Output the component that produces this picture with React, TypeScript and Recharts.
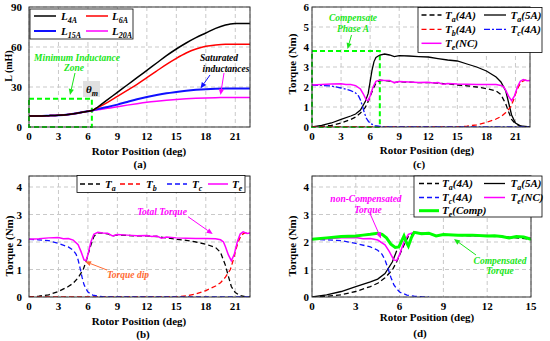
import React from 'react';
import { LineChart, Line, XAxis, YAxis, CartesianGrid, ReferenceArea } from 'recharts';

// (a) phase inductance against rotor position
const lPos = [0, 1, 2, 3, 4, 5, 6, 6.5, 7, 8, 9, 10, 11, 12, 13, 14, 15, 16, 17, 18, 19, 20, 20.5, 21, 22.5];
const l4A = [8.3, 8.3, 8.5, 8.8, 9.4, 10.5, 11.8, 12.6, 15, 20.5, 26, 31.5, 37, 42.5, 48, 53.5, 58.5, 63, 67, 70.5, 74, 76.5, 77.3, 77.6, 77.6];
const l6A = [8.3, 8.3, 8.5, 8.8, 9.4, 10.5, 11.8, 12.6, 14.5, 18.5, 23, 27.5, 32, 37, 42, 47, 51.5, 55.5, 58.5, 60.5, 61.5, 62, 62, 62, 62];
const l15A = [8.3, 8.3, 8.5, 8.8, 9.4, 10.5, 11.8, 12.4, 13.5, 15, 16.8, 18.8, 20.8, 22.5, 24, 25.3, 26.3, 27.2, 27.9, 28.4, 28.7, 28.8, 28.8, 28.8, 28.8];
const l20A = [8.3, 8.3, 8.5, 8.8, 9.4, 10.5, 11.8, 12.3, 13, 14, 15.2, 16.4, 17.5, 18.5, 19.3, 20, 20.6, 21.1, 21.5, 21.8, 22, 22.1, 22.2, 22.2, 22.2];

// torque curves, shared by (b), (c) and (d)
const tePos = [0, 1, 2, 3, 3.5, 4, 4.5, 5, 5.3, 5.6, 5.8, 6, 6.3, 6.6, 7, 7.5, 8, 8.5, 9, 10, 11, 12, 12.5, 13, 13.5, 14, 15, 16, 17, 18, 19, 19.5, 19.8, 20, 20.3, 20.6, 20.9, 21.2, 21.5, 21.8, 22.2, 22.5];
const teNC = [2.1, 2.12, 2.15, 2.16, 2.12, 2.13, 2.07, 1.9, 1.65, 1.35, 1.32, 1.55, 2.0, 2.28, 2.35, 2.33, 2.32, 2.22, 2.27, 2.25, 2.23, 2.24, 2.2, 2.22, 2.14, 2.18, 2.15, 2.14, 2.13, 2.13, 2.12, 2.08, 2.0, 1.83, 1.53, 1.32, 1.55, 2.0, 2.29, 2.37, 2.31, 2.33];

const taPos = [0, 1, 2, 3, 4, 4.5, 5, 5.5, 5.8, 6, 6.3, 6.6, 7, 7.5, 8, 8.5, 9, 10, 11, 12, 13, 14, 15, 16, 17, 18, 19, 19.5, 20, 20.3, 20.6, 21, 21.5, 22, 22.5];
const ta4A = [0, 0.03, 0.08, 0.2, 0.38, 0.5, 0.7, 0.98, 1.28, 1.53, 1.89, 2.2, 2.33, 2.32, 2.3, 2.22, 2.26, 2.24, 2.22, 2.22, 2.2, 2.15, 2.1, 2.06, 2.0, 1.92, 1.8, 1.62, 1.15, 0.75, 0.38, 0.16, 0.05, 0.01, 0];

const ta5Pos = [0, 1, 2, 3, 4, 4.5, 5, 5.5, 5.8, 6, 6.2, 6.4, 6.6, 7, 7.5, 8, 8.5, 9, 10, 11, 12, 13, 14, 15, 16, 17, 18, 19, 19.5, 20, 20.3, 20.6, 21, 21.5, 22.5];
const ta5A = [0, 0.08, 0.2, 0.38, 0.55, 0.65, 0.85, 1.27, 1.68, 2.27, 2.85, 3.27, 3.48, 3.6, 3.65, 3.6, 3.52, 3.57, 3.55, 3.52, 3.5, 3.42, 3.35, 3.3, 3.15, 3.0, 2.8, 2.5, 2.25, 1.8, 1.2, 0.6, 0.2, 0.06, 0];

const tbPos = [0, 15, 16, 17, 18, 19, 19.5, 20, 20.5, 20.8, 21, 21.3, 21.6, 22, 22.5];
const tb4A = [0, 0, 0.04, 0.11, 0.23, 0.4, 0.52, 0.72, 1.0, 1.35, 1.65, 2.0, 2.25, 2.34, 2.32];

const tcPos = [0, 1, 2, 3, 4, 4.5, 4.8, 5, 5.2, 5.4, 5.6, 5.8, 6, 6.5, 7, 7.5, 8, 22.5];
const tc4A = [2.1, 2.08, 2.05, 1.95, 1.82, 1.7, 1.55, 1.35, 1.05, 0.72, 0.45, 0.3, 0.18, 0.07, 0.03, 0.01, 0, 0];

const tcompPos = [0, 1, 2, 3, 3.5, 4, 4.5, 4.8, 5.1, 5.4, 5.7, 5.95, 6.15, 6.3, 6.45, 6.6, 6.8, 7, 7.5, 8, 8.5, 9, 10, 11, 12, 12.5, 13, 13.5, 14, 14.5, 15];
const teComp = [2.1, 2.15, 2.2, 2.22, 2.25, 2.28, 2.32, 2.28, 2.15, 1.92, 1.8, 1.82, 2.05, 2.22, 2.0, 1.85, 2.15, 2.35, 2.3, 2.32, 2.22, 2.27, 2.25, 2.25, 2.22, 2.23, 2.2, 2.15, 2.2, 2.18, 2.1];

const xTicks21 = [0, 3, 6, 9, 12, 15, 18, 21];
const xTicks15 = [0, 3, 6, 9, 12, 15];
const lTicks = [0, 30, 60, 90];
const tTicks4 = [0, 1, 2, 3, 4];
const tTicks6 = [0, 1, 2, 3, 4, 5, 6];

const pts = (xs: number[], ys: number[], max = Infinity) =>
  xs.map((x, i) => ({ x, y: ys[i] })).filter((p) => p.x <= max);

const FONT = '"Liberation Serif", "Times New Roman", serif';
const GREEN = '#00ff00';
const GREEN_TXT = '#19e619';

const XTick = (p: any) => (
  <text x={p.x} y={p.y + 13} textAnchor="middle" fontFamily={FONT} fontWeight={700} fontSize={11} fill="#000">
    {p.payload.value}
  </text>
);

function Panel({ left, top, width, height, plot, xMax, xTicks, yMax, yTicks, yGap, children }: any) {
  const YTick = (p: any) => (
    <text x={p.x - yGap} y={p.y + 4} textAnchor="end" fontFamily={FONT} fontWeight={700} fontSize={11} fill="#000">
      {p.payload.value}
    </text>
  );
  return (
    <div style={{ position: 'absolute', left, top }}>
      <LineChart width={width} height={height} margin={{ top: plot[1], right: width - plot[2], bottom: 0, left: 0 }}>
        <CartesianGrid stroke="#c9c9c9" strokeDasharray="4 3" />
        <XAxis type="number" dataKey="x" domain={[0, xMax]} ticks={xTicks} interval={0} height={height - plot[3]}
          tickLine={false} axisLine={false} tickSize={0} tickMargin={0} tick={XTick} allowDataOverflow />
        <YAxis type="number" domain={[0, yMax]} ticks={yTicks} interval={0} width={plot[0]}
          tickLine={false} axisLine={false} tickSize={0} tickMargin={0} tick={YTick} allowDataOverflow />
        {children}
      </LineChart>
    </div>
  );
}

const ln = (key: string, data: any[], color: string, w = 1.3, dash?: string, type: any = 'linear') => (
  <Line key={key} data={data} dataKey="y" type={type} stroke={color} strokeWidth={w} strokeDasharray={dash}
    dot={false} activeDot={false} isAnimationActive={false} />
);

function Arrow({ x1, y1, x2, y2, color }: any) {
  const a = Math.atan2(y2 - y1, x2 - x1);
  const L = 6, W = 2.6;
  const bx = x2 - L * Math.cos(a), by = y2 - L * Math.sin(a);
  const px = -Math.sin(a) * W, py = Math.cos(a) * W;
  return (
    <g>
      <line x1={x1} y1={y1} x2={bx} y2={by} stroke={color} strokeWidth={1} />
      <polygon points={`${x2},${y2} ${bx + px},${by + py} ${bx - px},${by - py}`} fill={color} />
    </g>
  );
}

// symbol with subscript, e.g. T_a(4A)
function Sym({ x, y, main, sub, tail }: any) {
  return (
    <text x={x} y={y} fontFamily={FONT} fontWeight={700} fontStyle="italic" fontSize={11} fill="#000">
      {main}
      <tspan fontSize={8} dy={3}>{sub}</tspan>
      {tail ? <tspan fontSize={11} dy={-3}>{tail}</tspan> : null}
    </text>
  );
}

function Note({ x, y, color, children, size = 9.5 }: any) {
  return (
    <text x={x} y={y} textAnchor="middle" fontFamily={FONT} fontWeight={700} fontStyle="italic" fontSize={size} fill={color}>
      {children}
    </text>
  );
}

function Key({ x, y, color, dash, w = 1.3, len = 22 }: any) {
  return <line x1={x} y1={y} x2={x + len} y2={y} stroke={color} strokeWidth={w} strokeDasharray={dash} />;
}

const bold = { fontFamily: FONT, fontWeight: 700, fontSize: 11, fill: '#000' } as const;

export default function App() {
  const dash = '5 3';
  const dashDot = '6 2 2 2';
  return (
    <div style={{ position: 'absolute', left: 0, top: 0, width: 550, height: 341, background: '#fff', overflow: 'hidden' }}>
      <Panel left={0} top={0} width={275} height={170} plot={[29, 7, 250, 127]} xMax={22.5} xTicks={xTicks21}
        yMax={90} yTicks={lTicks} yGap={7}>
        <ReferenceArea x1={0} x2={6.4} y1={0} y2={21.2} fill="none" stroke={GREEN} strokeWidth={2} strokeDasharray="5 3" ifOverflow="visible" />
        {ln('l20', pts(lPos, l20A), '#ff00ff', 1.5, undefined, 'monotone')}
        {ln('l15', pts(lPos, l15A), '#1010ff', 2, undefined, 'monotone')}
        {ln('l6', pts(lPos, l6A), '#ff0000', 1.5, undefined, 'monotone')}
        {ln('l4', pts(lPos, l4A), '#000', 1.5, undefined, 'monotone')}
      </Panel>

      <Panel left={275} top={0} width={275} height={170} plot={[37, 7, 255, 127]} xMax={22.5} xTicks={xTicks21}
        yMax={6} yTicks={tTicks6} yGap={3}>
        <ReferenceArea x1={0} x2={7} y1={0} y2={3.8} fill="none" stroke={GREEN} strokeWidth={2} strokeDasharray="5 3" ifOverflow="visible" />
        {ln('ta4', pts(taPos, ta4A), '#000', 1.3, dash)}
        {ln('ta5', pts(ta5Pos, ta5A), '#000', 1.3)}
        {ln('tb', pts(tbPos, tb4A), '#ff0000', 1.3, dash)}
        {ln('tc', pts(tcPos, tc4A), '#1010ff', 1.3, dashDot)}
        {ln('te', pts(tePos, teNC), '#ff00ff', 1.5)}
      </Panel>

      <Panel left={0} top={170} width={275} height={171} plot={[29, 6, 250, 127]} xMax={22.5} xTicks={xTicks21}
        yMax={4.4} yTicks={tTicks4} yGap={7}>
        {ln('ta', pts(taPos, ta4A), '#000', 1.3, dash)}
        {ln('tb', pts(tbPos, tb4A), '#ff0000', 1.3, dash)}
        {ln('tc', pts(tcPos, tc4A), '#1010ff', 1.3, dash)}
        {ln('te', pts(tePos, teNC), '#ff00ff', 1.5)}
      </Panel>

      <Panel left={275} top={170} width={275} height={171} plot={[37, 6, 256, 127]} xMax={15} xTicks={xTicks15}
        yMax={4.4} yTicks={tTicks4} yGap={3}>
        {ln('ta4', pts(taPos, ta4A, 15), '#000', 1.3, dash)}
        {ln('ta5', pts(ta5Pos, ta5A, 5.8), '#000', 1.3)}
        {ln('tc', pts(tcPos, tc4A, 15), '#1010ff', 1.3, dash)}
        {ln('te', pts(tePos, teNC, 15), '#ff00ff', 1.5)}
        {ln('tcomp', pts(tcompPos, teComp), GREEN, 3)}
      </Panel>

      <svg width={550} height={341} style={{ position: 'absolute', left: 0, top: 0, pointerEvents: 'none' }}>
        {/* axes boxes */}
        <rect x={29} y={7} width={221} height={120} fill="none" stroke="#333" strokeWidth={1} />
        <rect x={312} y={7} width={218} height={120} fill="none" stroke="#333" strokeWidth={1} />
        <rect x={29} y={176} width={221} height={121} fill="none" stroke="#333" strokeWidth={1} />
        <rect x={312} y={176} width={219} height={121} fill="none" stroke="#333" strokeWidth={1} />

        {/* axis titles */}
        <text x={139} y={154.5} textAnchor="middle" {...bold}>Rotor Position (deg)</text>
        <text x={427} y={154} textAnchor="middle" {...bold}>Rotor Position (deg)</text>
        <text x={139} y={324.5} textAnchor="middle" {...bold}>Rotor Position (deg)</text>
        <text x={427} y={320.5} textAnchor="middle" {...bold}>Rotor Position (deg)</text>
        <text x={140} y={168} textAnchor="middle" {...bold}>(a)</text>
        <text x={419} y={168} textAnchor="middle" {...bold}>(c)</text>
        <text x={143} y={338} textAnchor="middle" {...bold}>(b)</text>
        <text x={420} y={336.5} textAnchor="middle" {...bold}>(d)</text>
        <text transform="translate(12,66) rotate(-90)" textAnchor="middle" {...bold} fontSize={10}>L (mH)</text>
        <text transform="translate(13,246) rotate(-90)" textAnchor="middle" {...bold}>Torque (Nm)</text>
        <text transform="translate(296,64) rotate(-90)" textAnchor="middle" {...bold}>Torque (Nm)</text>
        <text transform="translate(296,246) rotate(-90)" textAnchor="middle" {...bold}>Torque (Nm)</text>

        {/* (a) legend and notes */}
        <rect x={30} y={9} width={103} height={30} fill="#fff" stroke="#000" strokeWidth={0.8} />
        <Key x={34} y={16} color="#000" w={1.5} />
        <Sym x={61} y={19.5} main="L" sub="4A" />
        <Key x={86} y={16} color="#ff0000" w={1.5} />
        <Sym x={112} y={19.5} main="L" sub="6A" />
        <Key x={34} y={31} color="#1010ff" w={2} />
        <Sym x={61} y={34.5} main="L" sub="15A" />
        <Key x={86} y={31} color="#ff00ff" w={1.5} />
        <Sym x={112} y={34.5} main="L" sub="20A" />
        <Note x={77} y={61} color={GREEN_TXT}>Minimum Inductance</Note>
        <Note x={74} y={71} color={GREEN_TXT}>Zone</Note>
        <Arrow x1={75} y1={73} x2={70} y2={95} color={GREEN_TXT} />
        <rect x={83} y={81} width={17} height={16} fill="#e0e0e0" />
        <Sym x={86} y={93} main="θ" sub="m" />
        <Note x={219} y={60.5} color="#000">Saturated</Note>
        <Note x={226} y={71.5} color="#000">inductances</Note>
        <Arrow x1={210} y1={75} x2={200.5} y2={88.5} color="#1010ff" />
        <Arrow x1={224} y1={73} x2={220.5} y2={95} color="#ff00ff" />

        {/* (b) legend and notes */}
        <rect x={77} y={175.5} width={168} height={17} fill="#fff" stroke="#000" strokeWidth={0.8} />
        <Key x={80} y={184} color="#000" dash={dash} len={20} />
        <Sym x={105} y={187.5} main="T" sub="a" />
        <Key x={120} y={184} color="#ff0000" dash={dash} len={20} />
        <Sym x={146} y={187.5} main="T" sub="b" />
        <Key x={167} y={184} color="#1010ff" dash={dash} len={20} />
        <Sym x={192} y={187.5} main="T" sub="c" />
        <Key x={208} y={184} color="#ff00ff" w={1.5} len={20} />
        <Sym x={232} y={187.5} main="T" sub="e" />
        <Note x={162} y={215} color="#ff00ff">Total Torque</Note>
        <Arrow x1={188} y1={216.7} x2={212.7} y2={234} color="#ff00ff" />
        <Note x={128} y={277.5} color="#ff6a33">Torque dip</Note>
        <Arrow x1={107} y1={270} x2={85} y2={261.5} color="#ff6a33" />

        {/* (c) legend and notes */}
        <rect x={418} y={7.5} width={124} height={45} fill="#fff" stroke="#000" strokeWidth={0.8} />
        <Key x={421.5} y={15} color="#000" dash={dash} len={20} />
        <Sym x={445} y={18.5} main="T" sub="a" tail="(4A)" />
        <Key x={484} y={15} color="#000" len={22} />
        <Sym x={510.5} y={18.5} main="T" sub="a" tail="(5A)" />
        <Key x={421.5} y={29.3} color="#ff0000" dash={dash} len={20} />
        <Sym x={445} y={32.8} main="T" sub="b" tail="(4A)" />
        <Key x={484} y={29.3} color="#1010ff" dash={dashDot} len={22} />
        <Sym x={510.5} y={32.8} main="T" sub="c" tail="(4A)" />
        <Key x={421.5} y={43.3} color="#ff00ff" w={1.5} len={20} />
        <Sym x={445} y={46.8} main="T" sub="e" tail="(NC)" />
        <Note x={353} y={20.5} color={GREEN_TXT}>Compensate</Note>
        <Note x={353} y={31.5} color={GREEN_TXT}>Phase A</Note>
        <Arrow x1={351.5} y1={35} x2={347.5} y2={49} color={GREEN_TXT} />

        {/* (d) legend and notes */}
        <rect x={414} y={176} width={128} height={41} fill="#fff" stroke="#000" strokeWidth={0.8} />
        <Key x={419} y={183.5} color="#000" dash={dash} len={20} />
        <Sym x={442} y={187} main="T" sub="a" tail="(4A)" />
        <Key x={484} y={183.5} color="#000" len={21} />
        <Sym x={510.5} y={187} main="T" sub="a" tail="(5A)" />
        <Key x={419} y={197.5} color="#1010ff" dash={dash} len={20} />
        <Sym x={442} y={201} main="T" sub="c" tail="(4A)" />
        <Key x={484} y={197.5} color="#ff00ff" w={1.5} len={21} />
        <Sym x={510.5} y={201} main="T" sub="e" tail="(NC)" />
        <Key x={419} y={210.7} color={GREEN} w={3} len={20} />
        <Sym x={442} y={214.2} main="T" sub="e" tail="(Comp)" />
        <Note x={366} y={201.5} color="#ff00ff">non-Compensated</Note>
        <Note x={368} y={212.5} color="#ff00ff">Torque</Note>
        <Arrow x1={370} y1={213.5} x2={381} y2={238.5} color="#ff00ff" />
        <Note x={500} y={263.5} color={GREEN_TXT}>Compensated</Note>
        <Note x={500} y={274} color={GREEN_TXT}>Torque</Note>
        <Arrow x1={476} y1={255} x2={454} y2={239} color={GREEN_TXT} />
      </svg>
    </div>
  );
}
